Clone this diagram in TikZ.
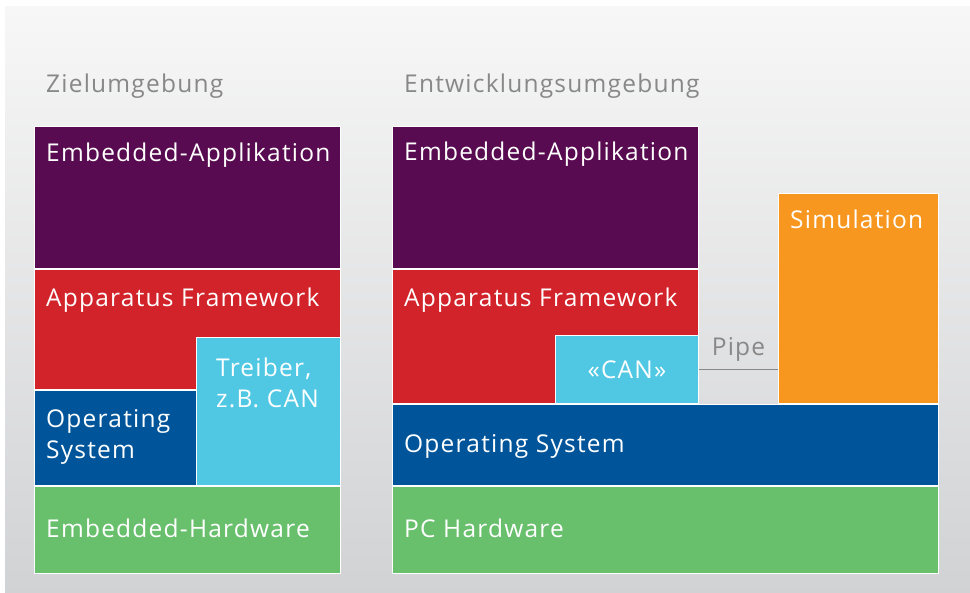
\documentclass[tikz,border=0pt]{standalone}
\usepackage{fontspec}
\setmainfont{Open Sans}[LetterSpace=5]
\usetikzlibrary{positioning}
\definecolor{appviolet}{HTML}{580B50}
\definecolor{fwred}{HTML}{D2232A}
\definecolor{osblue}{HTML}{00559A}
\definecolor{canblue}{HTML}{50C8E3}
\definecolor{hwgreen}{HTML}{68BF6C}
\definecolor{simorange}{HTML}{F7971F}
\definecolor{headgray}{HTML}{888888}
\definecolor{bgtop}{HTML}{F7F7F7}
\definecolor{bgbottom}{HTML}{D1D2D4}
\tikzset{layer/.style={rectangle, draw=white, line width=1pt, anchor=north west, inner sep=0pt},
	tagfont/.style={text=white, font=\fontsize{24.5}{31}\selectfont, inner sep=0pt, align=left},
	tag/.style={tagfont, text height=17.5pt},
	mid tag/.style={tag, text depth=0pt, anchor=west, xshift=12pt, yshift=1.5pt},
	heading/.style={text=headgray, font=\fontsize{24.5}{31}\selectfont, inner sep=0pt, text height=17.5pt, text depth=0pt},
	pipe/.style={draw=headgray, line width=1.5pt},}

\begin{document}
\begin{tikzpicture}[x=1pt, y=-1pt]
				\useasboundingbox (0,0) rectangle (970,593);
				\fill[white] (0,0) rectangle (970,593);
				\shade[top color=bgtop, bottom color=bgbottom] (5,7) rectangle (970,593);
				% Zielumgebung
				\node[layer, fill=appviolet, minimum width=306pt, minimum height=142pt,
					label={[tag, anchor=north west, xshift=12pt, yshift=-18pt]north west:Embedded-Applikation}] (app1) at (34,126) {};
				\node[layer, fill=fwred, minimum width=306pt, minimum height=120pt,
					label={[tag, anchor=north west, xshift=12pt, yshift=-20pt]north west:Apparatus Framework}] (fw1) at (app1.south west) {};
				\node[layer, fill=osblue, minimum width=162pt, minimum height=95pt,
					label={[tagfont, anchor=north west, xshift=12pt, yshift=-19.5pt]north west:{Operating\\System}}] (os1) at (fw1.south west) {};
				\node[layer, anchor=south east, fill=canblue, minimum width=144pt, minimum height=148pt,
					label={[tagfont, anchor=north west, xshift=20pt, yshift=-21pt]north west:{Treiber,\\z.B. CAN}}] (drv) at (os1.south -| fw1.east) {};
				\node[layer, fill=hwgreen, minimum width=306pt, minimum height=87pt,
					label={[mid tag]west:Embedded-Hardware}] (hw1) at (os1.south west) {};
				\node[heading, above right=33pt and 12pt of app1.north west] (ziel) {Zielumgebung};
				% Entwicklungsumgebung
				\node[layer, fill=appviolet, minimum width=306pt, minimum height=142pt,
					label={[tag, anchor=north west, xshift=12pt, yshift=-17pt]north west:Embedded-Applikation}] (app2) at (392,126) {};
				\node[layer, fill=fwred, minimum width=306pt, minimum height=134pt,
					label={[tag, anchor=north west, xshift=12pt, yshift=-20pt]north west:Apparatus Framework}] (fw2) at (app2.south west) {};
				\node[layer, anchor=south east, fill=canblue, minimum width=143pt, minimum height=68pt,
					tag, text depth=0pt, align=center] (can) at (fw2.south east) {«CAN»};
				\node[layer, fill=osblue, minimum width=546pt, minimum height=81pt,
					label={[mid tag]west:Operating System}] (os2) at (fw2.south west) {};
				\node[layer, fill=hwgreen, minimum width=546pt, minimum height=87pt,
					label={[mid tag]west:PC Hardware}] (hw2) at (os2.south west) {};
				\node[layer, anchor=south east, fill=simorange, minimum width=160pt, minimum height=210pt,
					label={[tag, anchor=north west, xshift=12pt, yshift=-18pt]north west:Simulation}] (sim) at (os2.north east) {};
				\node[heading, above right=33pt and 12pt of app2.north west] (entw) {Entwicklungsumgebung};
				% Pipe
				\draw[pipe] (can.east) -- (can.east -| sim.west) node[midway, above=13pt, heading] {Pipe};
			\end{tikzpicture}
\end{document}
